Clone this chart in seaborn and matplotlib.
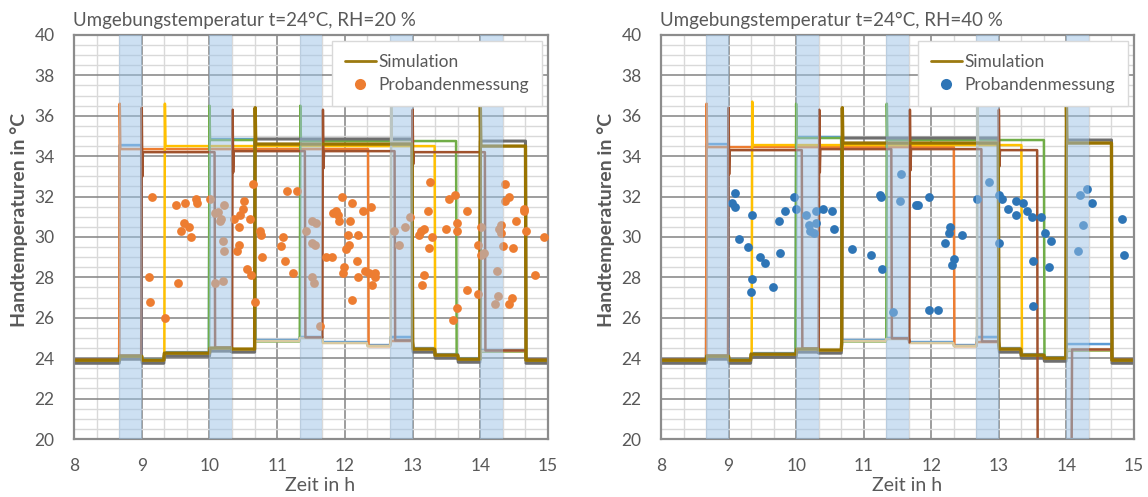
import numpy as np
import matplotlib
matplotlib.use("Agg")
import matplotlib.pyplot as plt
from matplotlib.lines import Line2D
from matplotlib.ticker import MultipleLocator
import seaborn as sns

# Drittelstunden-Raster der Umgebung und Grundniveau der Simulation (Hand aus dem Raum)
grenzen = [8.0, 8.333, 8.667, 9.0, 9.333, 9.667, 10.0, 10.333, 10.667, 11.0, 11.333,
           11.667, 12.0, 12.333, 12.667, 13.0, 13.333, 13.667, 14.0, 14.333, 14.667, 15.0]
basis_links = [23.9, 23.9, 24.1, 23.9, 24.25, 24.25, 24.5, 24.45, 24.85, 24.85, 25.0,
               24.75, 24.75, 24.6, 24.85, 24.45, 24.15, 23.95, 24.35, 24.35, 23.9]
basis_rechts = [23.9, 23.9, 24.1, 23.9, 24.2, 24.2, 24.45, 24.4, 24.85, 24.85, 24.95,
                24.75, 24.75, 24.6, 24.8, 24.45, 24.15, 24.0, 24.4, 24.4, 23.9]

# Messphasen (blau hinterlegt)
messphasen = [(8.667, 9.0), (10.0, 10.333), (11.333, 11.667), (12.667, 13.0), (14.0, 14.333)]

# Simulationslinien: (an, aus, Niveau, Spitze, Delle)
linien = ["blau", "orange", "gelb", "gruen", "grau", "beige", "braun", "gold"]
versatz = {"blau": 0.05, "orange": 0.0, "gelb": 0.0, "gruen": -0.02, "grau": -0.15,
           "beige": 0.0, "braun": 0.03, "gold": 0.0}

phasen_links = {
    "blau": [(8.667, 9.0, 34.55, None, None), (10.0, 10.667, 34.85, None, None),
             (12.667, 13.0, 25.05, None, None)],
    "orange": [(8.667, 12.35, 34.35, 36.6, None)],
    "gelb": [(9.34, 13.33, 34.5, 36.6, None)],
    "gruen": [(10.0, 10.667, 34.8, 36.5, None), (11.34, 13.65, 34.75, 36.5, None)],
    "grau": [(10.67, 13.0, 34.85, None, None), (14.0, 14.667, 34.75, None, None)],
    "beige": [(12.68, 13.0, 34.7, 36.5, None)],
    "braun": [(9.0, 10.08, 34.2, 36.4, 33.0), (10.34, 11.41, 34.25, 36.3, 33.2),
              (11.67, 12.74, 34.25, 36.3, 33.4), (13.0, 14.07, 34.2, 36.3, 33.6)],
    "gold": [(10.67, 13.0, 34.6, 36.4, None), (14.0, 14.667, 34.5, 36.5, None)],
}

phasen_rechts = {
    "blau": [(8.667, 9.0, 34.6, None, None), (10.0, 10.667, 34.95, None, None),
             (12.667, 13.0, 25.05, None, None), (14.0, 14.667, 24.7, None, None)],
    "orange": [(8.667, 12.34, 34.45, 36.6, None)],
    "gelb": [(9.35, 13.34, 34.55, 36.7, None)],
    "gruen": [(10.0, 10.667, 34.9, 36.6, None), (11.34, 13.67, 34.8, 36.6, None)],
    "grau": [(10.68, 13.0, 34.9, None, None), (14.0, 14.667, 34.8, None, None)],
    "beige": [(12.68, 13.0, 34.7, 36.6, None)],
    "braun": [(9.0, 10.09, 34.3, 36.4, 33.1), (10.34, 11.41, 34.35, 36.3, 33.2),
              (11.68, 12.75, 34.35, 36.3, 33.3), (13.0, 13.57, 34.3, 36.3, 33.5),
              (13.57, 14.08, 18.0, None, None)],
    "gold": [(10.68, 13.0, 34.65, 36.4, None), (14.0, 14.667, 34.65, 36.5, None)],
}

# Probandenmessung
zeit_links = [9.15, 9.50, 9.64, 9.80, 9.81, 9.58, 9.63, 9.70, 9.73,
              10.01, 10.08, 10.13, 10.17, 10.15, 10.22, 10.20, 10.36, 10.45, 10.50, 10.51,
              10.44, 10.43, 10.60, 10.64, 10.75, 10.76,
              11.06, 11.09, 11.14, 11.29, 11.43, 11.52, 11.57, 11.51, 11.56,
              11.82, 11.87, 11.90, 11.92, 11.96, 12.10, 12.08, 12.05, 12.06, 12.02, 12.20,
              12.27, 12.38, 12.73, 12.89, 12.96, 12.80,
              13.09, 13.13, 13.17, 13.28, 13.23, 13.25, 13.24,
              13.50, 13.54, 13.62, 13.66, 13.66, 13.81, 13.96, 14.01,
              14.28, 14.30, 14.31, 14.36, 14.37, 14.43, 14.34, 14.48, 14.52, 14.64, 14.65,
              14.68, 14.94,
              9.10, 9.12, 9.34, 9.54, 10.08, 10.20, 10.22, 10.40, 10.55, 10.62, 10.67, 10.77,
              11.12, 11.23, 11.52, 11.54, 11.63, 11.72, 11.81, 11.97, 11.99, 12.11, 12.18,
              12.19, 12.29, 12.35, 12.40, 12.45, 12.45, 13.14, 13.17, 13.59, 13.66, 13.81,
              13.96, 14.01, 14.06, 14.25, 14.22, 14.26, 14.42, 14.47, 14.81]
temp_links = [32.0, 31.6, 31.7, 31.9, 31.7, 30.3, 30.7, 30.5, 30.0,
              31.9, 31.2, 31.25, 30.9, 30.8, 31.6, 29.8, 30.9, 31.1, 31.4, 31.8,
              30.5, 29.6, 30.9, 32.6, 30.3, 30.1,
              29.55, 30.0, 32.3, 32.3, 30.3, 30.8, 30.7, 29.7, 29.6,
              31.2, 31.3, 31.1, 30.8, 32.0, 31.7, 30.8, 30.1, 29.6, 29.4, 30.1,
              31.3, 31.5, 30.3, 30.5, 31.0, 29.6,
              30.1, 30.3, 30.4, 30.0, 31.3, 32.7, 29.45,
              30.4, 31.9, 32.1, 30.7, 30.3, 31.3, 29.6, 30.5,
              30.4, 30.6, 30.2, 32.6, 31.8, 32.0, 29.55, 29.45, 30.8, 31.4, 31.3,
              30.3, 30.0,
              28.0, 26.8, 26.0, 27.7, 27.7, 27.8, 29.3, 29.3, 28.4, 28.1, 26.8, 29.0,
              28.8, 28.2, 28.0, 27.7, 25.6, 29.0, 29.0, 28.2, 28.5, 26.9, 28.8,
              28.0, 28.3, 28.2, 27.6, 28.2, 28.0, 27.6, 28.1, 25.9, 26.5, 27.4,
              27.2, 29.1, 29.2, 28.3, 26.7, 27.1, 26.7, 27.0, 28.1]

zeit_rechts = [9.10, 9.05, 9.09, 9.16, 9.28, 9.34, 9.75, 9.84, 9.97, 10.00, 10.14, 10.19,
               10.20, 10.27, 10.30, 10.30, 10.40, 10.53, 10.56, 10.83, 11.24, 11.25, 11.55,
               11.54, 11.77, 11.80, 11.96, 12.21, 12.26, 12.28, 12.45, 12.68, 12.86, 13.00,
               13.05, 13.00, 13.14, 13.25, 13.35, 13.25, 13.42, 13.49, 13.62, 13.69, 13.77,
               14.20, 14.30, 14.38, 14.25, 14.17, 14.82,
               9.47, 9.54, 9.35, 9.33, 9.65, 9.76, 11.11, 11.27, 11.44, 11.97, 12.10, 12.30,
               12.33, 13.51, 13.51, 13.74, 14.85]
temp_rechts = [32.2, 31.7, 31.5, 29.9, 29.5, 31.1, 30.8, 31.3, 32.0, 31.4, 31.1, 30.6,
               30.3, 30.2, 30.7, 31.3, 31.4, 31.3, 30.4, 29.4, 32.1, 32.0, 33.1,
               31.8, 31.6, 31.6, 32.0, 29.7, 30.2, 30.5, 30.1, 31.9, 32.7, 32.1,
               31.9, 29.7, 31.4, 31.8, 31.7, 31.1, 31.3, 31.0, 31.0, 30.2, 29.8,
               32.1, 32.4, 31.7, 30.6, 29.3, 30.9,
               29.0, 28.7, 27.9, 27.3, 27.5, 29.2, 29.1, 28.4, 26.3, 26.4, 26.4, 28.6,
               28.9, 28.8, 26.6, 28.5, 29.1]

titel = ["Umgebungstemperatur t=24°C, RH=20 %", "Umgebungstemperatur t=24°C, RH=40 %"]

farben = {"blau": "#5B9BD5", "orange": "#ED7D31", "gelb": "#FFC000", "gruen": "#70AD47",
          "grau": "#6E6E6E", "beige": "#D8C9A0", "braun": "#A0522D", "gold": "#997300"}
breiten = {"grau": 2.2, "gold": 2.4}
textfarbe = "#595959"

sns.set_theme(style="white")
plt.rcParams["font.family"] = ["Lato", "DejaVu Sans"]

t = np.arange(8.0, 15.0 + 1e-9, 1 / 120)
idx = np.clip(np.searchsorted(grenzen, t, side="right") - 1, 0, len(basis_links) - 1)


def kurve(basis, name, phasen):
    v = np.asarray(basis)[idx] + versatz[name]
    for an, aus, niveau, spitze, delle in phasen:
        m = (t >= an - 1e-9) & (t < aus - 1e-9)
        v[m] = niveau
        i0 = int(np.argmax(m))
        if spitze is not None:
            v[i0] = spitze
        if delle is not None:
            v[i0 + 1] = delle
    return v


def panel(ax, basis, phasen, zeit, temp, punktfarbe, titeltext):
    for name in linien:
        sns.lineplot(x=t, y=kurve(basis, name, phasen[name]), color=farben[name],
                     lw=breiten.get(name, 1.8), estimator=None, sort=False,
                     ax=ax, zorder=2)
    sns.scatterplot(x=zeit, y=temp, color=punktfarbe, s=40, linewidth=0,
                    ax=ax, zorder=3)
    for a, b in messphasen:
        ax.axvspan(a, b, color="#9DC3E6", alpha=0.5, lw=0, zorder=4)

    ax.set_xlim(8, 15)
    ax.set_ylim(20, 40)
    ax.set_xticks(range(8, 16))
    ax.set_yticks(range(20, 41, 2))
    ax.xaxis.set_minor_locator(MultipleLocator(1 / 3))
    ax.yaxis.set_minor_locator(MultipleLocator(0.5))
    ax.set_axisbelow(True)
    ax.grid(which="major", color="#8C8C8C", lw=1.2)
    ax.grid(which="minor", color="#D9D9D9", lw=1.0)
    ax.tick_params(which="both", length=0, pad=14, labelsize=12.5, labelcolor=textfarbe)
    for s in ax.spines.values():
        s.set_color("#8C8C8C")
        s.set_linewidth(1.6)

    ax.set_xlabel("Zeit in h", fontsize=14, color=textfarbe)
    ax.xaxis.set_label_coords(0.52, -0.093)
    ax.set_ylabel("Handtemperaturen in °C", fontsize=14, fontweight="bold", color=textfarbe)
    ax.yaxis.set_label_coords(-0.097, 0.542)
    ax.text(-0.003, 1.037, titeltext, transform=ax.transAxes, ha="left", va="center",
            fontsize=13.5, color=textfarbe)

    griffe = [Line2D([], [], color="#9C7A10", lw=2),
              Line2D([], [], ls="none", marker="o", ms=8, mec="none", color=punktfarbe)]
    leg = ax.legend(griffe, ["Simulation", "Probandenmessung"], loc="upper right",
                    bbox_to_anchor=(0.987, 0.986), borderaxespad=0, fontsize=12.5,
                    frameon=True, fancybox=False, framealpha=1, edgecolor="#D9D9D9",
                    handlelength=1.75, handletextpad=0.15, labelspacing=0.45,
                    borderpad=0.75, labelcolor=textfarbe)
    leg.set_zorder(10)


fig = plt.figure(figsize=(11.48, 4.97), dpi=100)
ax1 = fig.add_axes([0.0645, 0.1167, 0.4129, 0.8129])
ax2 = fig.add_axes([0.5758, 0.1167, 0.4120, 0.8129])

panel(ax1, basis_links, phasen_links, zeit_links, temp_links, "#ED7D31", titel[0])
panel(ax2, basis_rechts, phasen_rechts, zeit_rechts, temp_rechts, "#2E75B6", titel[1])

fig.savefig("out.png", dpi=100)
